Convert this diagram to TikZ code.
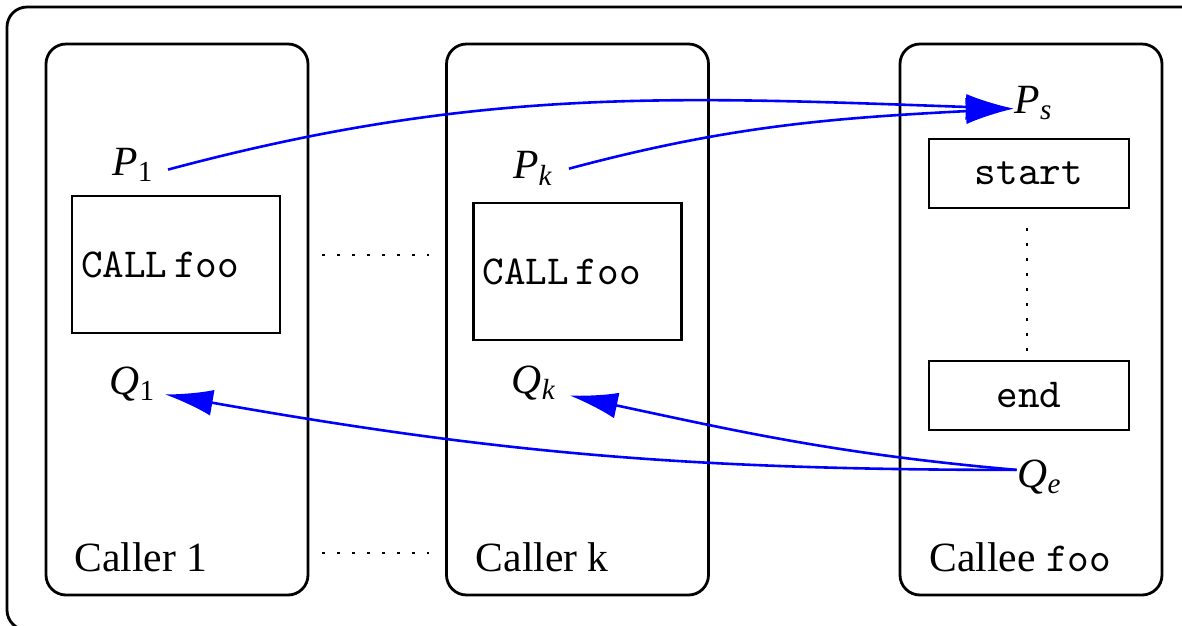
\documentclass[tikz,border=0pt]{standalone}
\usepackage{fontspec}
\setmainfont{Liberation Serif}
\usepackage{tikz}
\usetikzlibrary{arrows.meta}
\usetikzlibrary{calc}
\newcommand{\lblsize}{\fontsize{10.4}{12.5}\selectfont}
\newcommand{\codesize}{\fontsize{10.3}{12}\selectfont\ttfamily}
\tikzset{
    frame/.style={draw,line width=0.7pt,rounded corners=5pt,minimum width=65.5pt,minimum height=137.75pt},
    callbox/.style={draw,line width=0.7pt,minimum width=52pt,minimum height=34.25pt,text width=47.5pt,inner xsep=2.25pt,align=left,font=\codesize},
    stepbox/.style={draw,line width=0.7pt,minimum width=50pt,minimum height=17.25pt,font=\codesize},
    port/.style={inner sep=0pt,font=\lblsize},
    caption/.style={inner sep=0pt,anchor=base west,font=\lblsize},
    flow/.style={draw=blue,line width=0.65pt,-{Latex[length=12pt,width=6.5pt]}},
    dotline/.style={line width=0.6pt,dash pattern=on 0.6pt off 3.15pt}
}

\begin{document}
\begin{tikzpicture}[x=0.25pt,y=0.25pt]
    \useasboundingbox (0,0) rectangle (1182,625);
    \clip (0,0) rectangle (1182,625);
    % outer border, cut off at the right and bottom
    \draw[line width=0.7pt,rounded corners=5pt] (7,-5) rectangle (1220,618);

    % the three procedures
    \node[frame] (caller1) at (177,305.5) {};
    \node[frame] (callerk) at (577.5,305.5) {};
    \node[frame] (callee) at (1031,305.5) {};

    \node[caption] (cap1) at ($(caller1.south west)+(29,25)$) {Caller 1};
    \node[caption] (capk) at ($(callerk.south west)+(30,25)$) {Caller k};
    \node[caption] (capfoo) at ($(callee.south west)+(30,25)$) {Callee {\codesize foo}};

    \node[callbox] (call1) at (176,360.5) {CALL\,foo};
    \node[callbox] (callk) at (577.5,353.5) {CALL\,foo};
    \node[stepbox] (start) at (1029,451.5) {start};
    \node[stepbox] (end) at (1029,229.5) {end};

    \draw[dotline] ($(start.south)+(-2,-19)$) -- ($(end.north)+(-2,8)$);
    \draw[dotline] ($(caller1.east)+(13,64.5)$) -- ($(callerk.west)+(-16,64.5)$);
    \draw[dotline] ($(caller1.east)+(13,-233.5)$) -- ($(callerk.west)+(-16,-233.5)$);

    % call and return points
    \node[port] (p1) at (133.5,460) {\textit{P}\textsubscript{1}};
    \node[port] (pk) at (533.5,456.5) {\textit{P}\textsubscript{\textit{k}}};
    \node[port] (q1) at (133,241) {\textit{Q}\textsubscript{1}};
    \node[port] (qk) at (534.5,242) {\textit{Q}\textsubscript{\textit{k}}};
    \node[port] (ps) at (1034,522) {\textit{P}\textsubscript{\textit{s}}};
    \node[port] (qe) at (1040,147.5) {\textit{Q}\textsubscript{\textit{e}}};

    \draw[flow,shorten <=3.3pt] ([yshift=-2pt]p1.east) to[out=15,in=178] ([yshift=-1.4pt]ps.west);
    \draw[flow,shorten <=3.7pt] ([yshift=-1pt]pk.east) to[out=15,in=183] ([yshift=-1.4pt]ps.west);
    \draw[flow,shorten >=2pt] ([yshift=1.9pt]qe.west) to[out=180,in=-10] ([yshift=-2.25pt]q1.east);
    \draw[flow,shorten >=3pt] ([yshift=1.9pt]qe.west) to[out=175,in=-12] ([yshift=-2.5pt]qk.east);
\end{tikzpicture}
\end{document}
